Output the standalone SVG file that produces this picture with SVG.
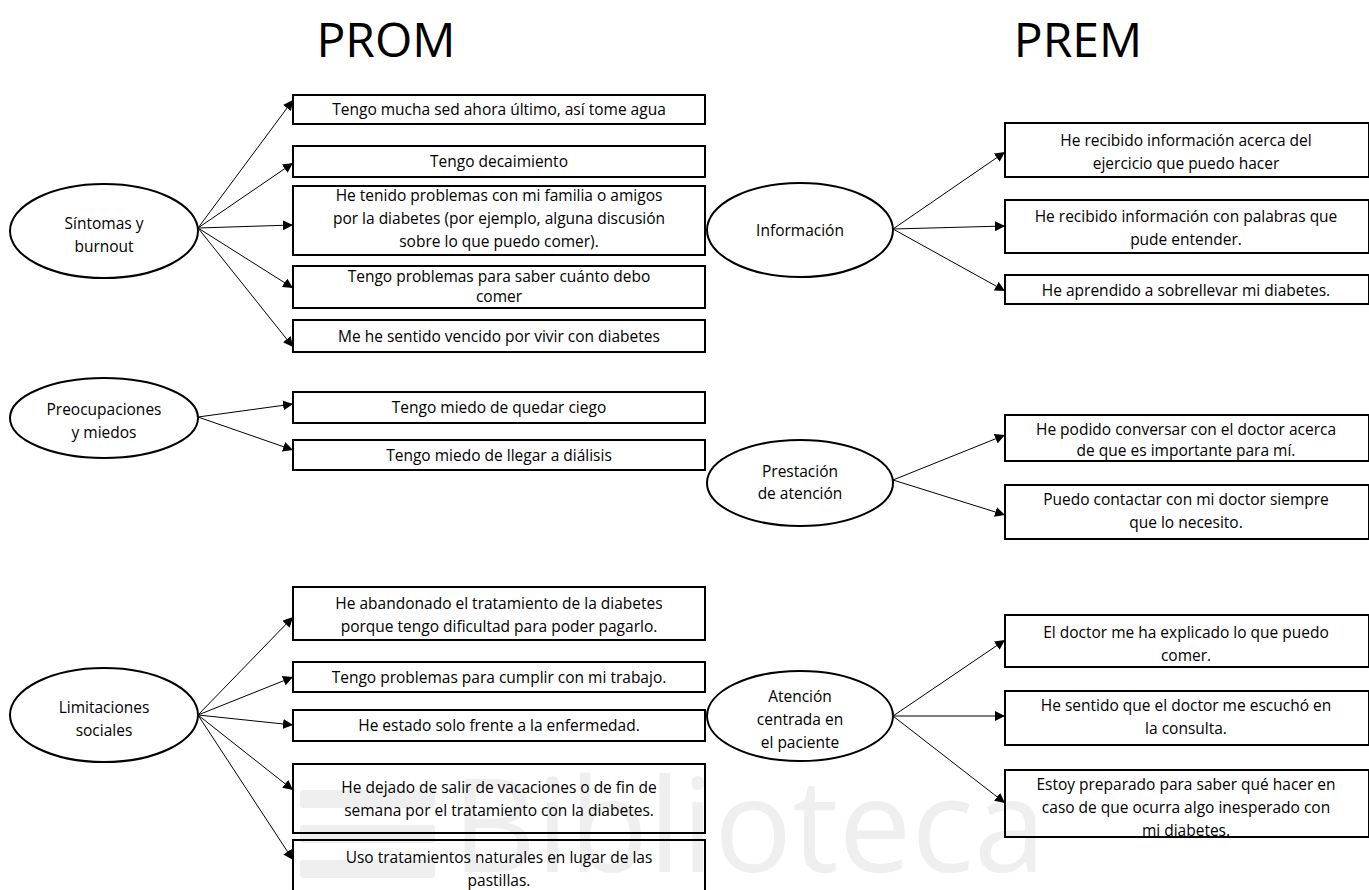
<svg xmlns="http://www.w3.org/2000/svg" width="1369" height="890" viewBox="0 0 1369 890">
  <style>
    .title { font-family: "Open Sans", "Liberation Sans", sans-serif; font-size: 48px; fill: #000; text-anchor: middle; }
    .lbl { font-family: "Open Sans", "Liberation Sans", sans-serif; font-size: 15.5px; fill: #000; text-anchor: middle; }
    .box { fill: none; stroke: #000; stroke-width: 2; }
    .ell { fill: none; stroke: #000; stroke-width: 2; }
    .wm { font-family: "Open Sans", "Liberation Sans", sans-serif; font-size: 130px; fill: #efefef; }
    .wmbar { fill: #efefef; }
    #connectors line { stroke: #000; stroke-width: 1; marker-end: url(#arrow); }
  </style>
  <defs>
    <marker id="arrow" viewBox="0 0 10 10" refX="10" refY="5" markerWidth="10" markerHeight="10" markerUnits="userSpaceOnUse" orient="auto">
      <path d="M0,0 L10,5 L0,10 z" fill="#000"/>
    </marker>
  </defs>

  <rect width="1369" height="890" fill="#fff"/>

  <!-- faint background watermark -->
  <g id="watermark">
    <rect class="wmbar" x="300" y="790" width="135" height="18" rx="3"/>
    <rect class="wmbar" x="300" y="825" width="135" height="18" rx="3"/>
    <rect class="wmbar" x="300" y="860" width="135" height="18" rx="3"/>
    <text class="wm" x="452" y="872">Biblioteca</text>
  </g>

  <text class="title" x="386" y="57">PROM</text>
  <text class="title" x="1078" y="57">PREM</text>

  <g id="connectors">
    <!-- Síntomas y burnout -->
    <line x1="198" y1="228" x2="293" y2="100"/>
    <line x1="198" y1="228" x2="293" y2="163"/>
    <line x1="198" y1="228" x2="293" y2="225"/>
    <line x1="198" y1="228" x2="293" y2="288"/>
    <line x1="198" y1="228" x2="293" y2="347"/>
    <!-- Preocupaciones y miedos -->
    <line x1="198" y1="417" x2="293" y2="404"/>
    <line x1="198" y1="417" x2="293" y2="450"/>
    <!-- Limitaciones sociales -->
    <line x1="198" y1="715" x2="293" y2="617"/>
    <line x1="198" y1="715" x2="293" y2="677"/>
    <line x1="198" y1="715" x2="293" y2="725"/>
    <line x1="198" y1="715" x2="293" y2="790"/>
    <line x1="198" y1="715" x2="293" y2="860"/>
    <!-- Información -->
    <line x1="893" y1="229" x2="1005" y2="152"/>
    <line x1="893" y1="229" x2="1005" y2="226"/>
    <line x1="893" y1="229" x2="1005" y2="291"/>
    <!-- Prestación de atención -->
    <line x1="893" y1="480" x2="1005" y2="435"/>
    <line x1="893" y1="480" x2="1005" y2="515"/>
    <!-- Atención centrada en el paciente -->
    <line x1="893" y1="716" x2="1005" y2="640"/>
    <line x1="893" y1="716" x2="1005" y2="716"/>
    <line x1="893" y1="716" x2="1005" y2="803"/>
  </g>

  <!-- PROM categories -->
  <g id="n-sintomas">
    <ellipse class="ell" cx="104" cy="231" rx="94" ry="47"/>
    <text class="lbl" x="104" y="229">Síntomas y</text>
    <text class="lbl" x="104" y="252">burnout</text>
  </g>
  <g id="n-preocupaciones">
    <ellipse class="ell" cx="104" cy="418" rx="94" ry="40"/>
    <text class="lbl" x="104" y="415">Preocupaciones</text>
    <text class="lbl" x="104" y="438">y miedos</text>
  </g>
  <g id="n-limitaciones">
    <ellipse class="ell" cx="104" cy="715" rx="94" ry="47"/>
    <text class="lbl" x="104" y="713">Limitaciones</text>
    <text class="lbl" x="104" y="736">sociales</text>
  </g>

  <!-- PROM items -->
  <g id="p1">
    <rect class="box" x="293" y="95" width="412" height="29"/>
    <text class="lbl" x="499" y="115">Tengo mucha sed ahora último, así tome agua</text>
  </g>
  <g id="p2">
    <rect class="box" x="293" y="146" width="412" height="31"/>
    <text class="lbl" x="499" y="167">Tengo decaimiento</text>
  </g>
  <g id="p3">
    <rect class="box" x="293" y="186" width="412" height="69"/>
    <text class="lbl" x="499" y="201">He tenido problemas con mi familia o amigos</text>
    <text class="lbl" x="499" y="224">por la diabetes (por ejemplo, alguna discusión</text>
    <text class="lbl" x="499" y="247">sobre lo que puedo comer).</text>
  </g>
  <g id="p4">
    <rect class="box" x="293" y="266" width="412" height="42"/>
    <text class="lbl" x="499" y="282">Tengo problemas para saber cuánto debo</text>
    <text class="lbl" x="499" y="302">comer</text>
  </g>
  <g id="p5">
    <rect class="box" x="293" y="320" width="412" height="32"/>
    <text class="lbl" x="499" y="342">Me he sentido vencido por vivir con diabetes</text>
  </g>
  <g id="p6">
    <rect class="box" x="293" y="392" width="412" height="31"/>
    <text class="lbl" x="499" y="413">Tengo miedo de quedar ciego</text>
  </g>
  <g id="p7">
    <rect class="box" x="293" y="440" width="412" height="30"/>
    <text class="lbl" x="499" y="461">Tengo miedo de llegar a diálisis</text>
  </g>
  <g id="p8">
    <rect class="box" x="293" y="587" width="412" height="53"/>
    <text class="lbl" x="499" y="609">He abandonado el tratamiento de la diabetes</text>
    <text class="lbl" x="499" y="632">porque tengo dificultad para poder pagarlo.</text>
  </g>
  <g id="p9">
    <rect class="box" x="293" y="662" width="412" height="30"/>
    <text class="lbl" x="499" y="683">Tengo problemas para cumplir con mi trabajo.</text>
  </g>
  <g id="p10">
    <rect class="box" x="293" y="710" width="412" height="31"/>
    <text class="lbl" x="499" y="731">He estado solo frente a la enfermedad.</text>
  </g>
  <g id="p11">
    <rect class="box" x="293" y="764" width="412" height="69"/>
    <text class="lbl" x="499" y="793">He dejado de salir de vacaciones o de fin de</text>
    <text class="lbl" x="499" y="816">semana por el tratamiento con la diabetes.</text>
  </g>
  <g id="p12">
    <rect class="box" x="293" y="840" width="412" height="60"/>
    <text class="lbl" x="499" y="863">Uso tratamientos naturales en lugar de las</text>
    <text class="lbl" x="499" y="886">pastillas.</text>
  </g>

  <!-- PREM categories -->
  <g id="n-informacion">
    <ellipse class="ell" cx="800" cy="230" rx="93" ry="47"/>
    <text class="lbl" x="800" y="236">Información</text>
  </g>
  <g id="n-prestacion">
    <ellipse class="ell" cx="800" cy="483" rx="93" ry="43"/>
    <text class="lbl" x="800" y="477">Prestación</text>
    <text class="lbl" x="800" y="499">de atención</text>
  </g>
  <g id="n-atencion">
    <ellipse class="ell" cx="800" cy="716" rx="93" ry="45"/>
    <text class="lbl" x="800" y="702">Atención</text>
    <text class="lbl" x="800" y="725">centrada en</text>
    <text class="lbl" x="800" y="748">el paciente</text>
  </g>

  <!-- PREM items -->
  <g id="r1">
    <rect class="box" x="1005" y="123" width="364" height="54"/>
    <text class="lbl" x="1186" y="146">He recibido información acerca del</text>
    <text class="lbl" x="1186" y="169">ejercicio que puedo hacer</text>
  </g>
  <g id="r2">
    <rect class="box" x="1005" y="200" width="364" height="53"/>
    <text class="lbl" x="1186" y="222">He recibido información con palabras que</text>
    <text class="lbl" x="1186" y="245">pude entender.</text>
  </g>
  <g id="r3">
    <rect class="box" x="1005" y="275" width="364" height="29"/>
    <text class="lbl" x="1186" y="296">He aprendido a sobrellevar mi diabetes.</text>
  </g>
  <g id="r4">
    <rect class="box" x="1005" y="415" width="364" height="46"/>
    <text class="lbl" x="1186" y="435">He podido conversar con el doctor acerca</text>
    <text class="lbl" x="1186" y="456">de que es importante para mí.</text>
  </g>
  <g id="r5">
    <rect class="box" x="1005" y="485" width="364" height="54"/>
    <text class="lbl" x="1186" y="505">Puedo contactar con mi doctor siempre</text>
    <text class="lbl" x="1186" y="528">que lo necesito.</text>
  </g>
  <g id="r6">
    <rect class="box" x="1005" y="615" width="364" height="52"/>
    <text class="lbl" x="1186" y="638">El doctor me ha explicado lo que puedo</text>
    <text class="lbl" x="1186" y="661">comer.</text>
  </g>
  <g id="r7">
    <rect class="box" x="1005" y="691" width="364" height="54"/>
    <text class="lbl" x="1186" y="711">He sentido que el doctor me escuchó en</text>
    <text class="lbl" x="1186" y="734">la consulta.</text>
  </g>
  <g id="r8">
    <rect class="box" x="1005" y="770" width="364" height="67"/>
    <text class="lbl" x="1186" y="790">Estoy preparado para saber qué hacer en</text>
    <text class="lbl" x="1186" y="813">caso de que ocurra algo inesperado con</text>
    <text class="lbl" x="1186" y="836">mi diabetes.</text>
  </g>
</svg>
